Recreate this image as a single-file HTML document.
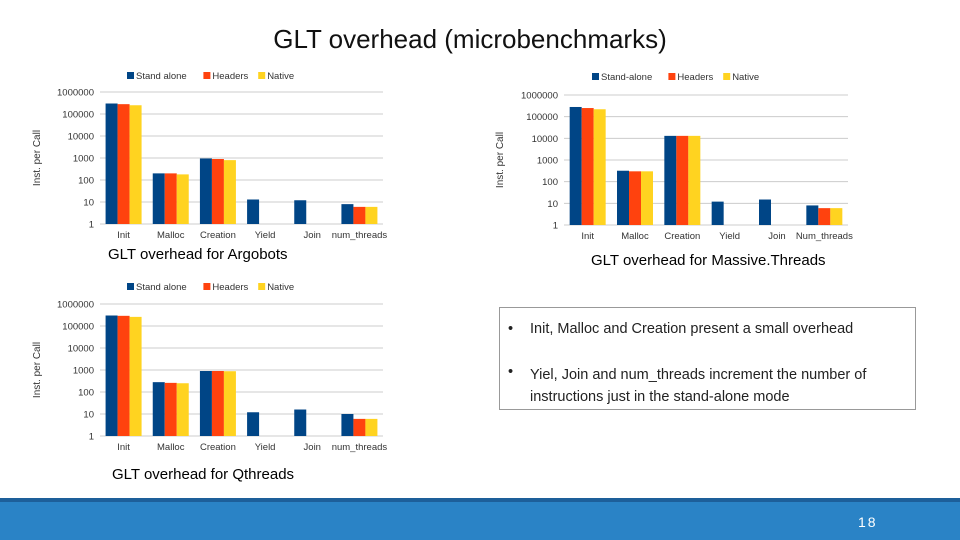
<!DOCTYPE html>
<html><head><meta charset="utf-8"><style>
body{margin:0;width:960px;height:540px;background:#fff;font-family:"Liberation Sans",sans-serif;overflow:hidden;position:relative}
.t{position:absolute;white-space:nowrap}
</style></head><body>
<div class="t" style="left:0;width:940px;text-align:center;top:24px;font-size:26px;color:#111">GLT overhead (microbenchmarks)</div>
<svg id="s" width="960" height="540" style="position:absolute;left:0;top:0"></svg>
<div class="t" style="left:108px;top:246px;font-size:15px">GLT overhead for Argobots</div>
<div class="t" style="left:591px;top:252px;font-size:15px">GLT overhead for Massive.Threads</div>
<div class="t" style="left:112px;top:466px;font-size:15px">GLT overhead for Qthreads</div>
<div style="position:absolute;left:499px;top:307px;width:415px;height:101px;border:1px solid #999;font-size:14.5px;color:#222">
<div class="t" style="left:8px;top:13px">•</div><div class="t" style="left:30px;top:13px">Init, Malloc and Creation present a small overhead</div>
<div class="t" style="left:8px;top:56px">•</div><div style="position:absolute;left:30px;top:56px;width:372px;line-height:22px">Yiel, Join and num_threads increment the number of instructions just in the stand-alone mode</div>
</div>
<div style="position:absolute;left:0;top:498px;width:960px;height:42px;background:#2a83c6;border-top:4px solid #1d5f9a;box-sizing:border-box"></div>
<div class="t" style="left:858px;top:514px;color:#fff;font-size:14px;letter-spacing:2px">18</div>
<script>
const cats1=["Init","Malloc","Creation","Yield","Join","num_threads"];
const cats2=["Init","Malloc","Creation","Yield","Join","Num_threads"];
const legend1=["Stand alone","Headers","Native"];
const legend2=["Stand-alone","Headers","Native"];
const ticks=["1","10","100","1000","10000","100000","1000000"];
const argStand=[300000,200,950,13,12,8];
const argHead=[280000,200,900,null,null,6];
const argNat=[250000,180,800,null,null,6];
const mtStand=[280000,320,13000,12,15,8];
const mtHead=[250000,300,13000,null,null,6];
const mtNat=[220000,300,13000,null,null,6];
const qtStand=[300000,280,900,12,16,10];
const qtHead=[290000,260,900,null,null,6];
const qtNat=[260000,250,880,null,null,6];
const colors=["#004586","#ff420e","#ffd320"];
const svg=document.getElementById('s');
function el(t,a){const e=document.createElementNS("http://www.w3.org/2000/svg",t);for(const k in a)e.setAttribute(k,a[k]);svg.appendChild(e);return e;}
function chart(name,x0,x1,yTop,yBot,cats,leg,series,legX,legY,ylabX){
  const y=v=>yBot-(Math.log10(v)/6)*(yBot-yTop);
  const bw=(x1-x0)/cats.length;
  ticks.forEach((t,i)=>{const yy=y(Number(t));
    const g=el('line',{x1:x0,x2:x1,y1:yy,y2:yy,stroke:'#ccc','stroke-width':1});
    
    const tx=el('text',{x:x0-6,y:yy+3.5,'text-anchor':'end','font-size':9.5,fill:'#333','font-family':'Liberation Sans'});tx.textContent=t;
    });
  cats.forEach((c,i)=>{const cx=x0+bw*(i+0.5);
    const tx=el('text',{x:cx,y:yBot+14,'text-anchor':'middle','font-size':9.5,fill:'#333','font-family':'Liberation Sans'});tx.textContent=c;
    
    series.forEach((s,j)=>{const v=s[i];if(v==null)return;const yy=y(v);
      const r=el('rect',{x:cx-18+j*12,y:yy,width:12,height:yBot-yy,fill:colors[j]});
      });});
  const yl=el('text',{x:ylabX,y:(yTop+yBot)/2,'text-anchor':'middle','font-size':10,fill:'#333','font-family':'Liberation Sans',transform:`rotate(-90 ${ylabX} ${(yTop+yBot)/2})`});yl.textContent='Inst. per Call';
  
  let lx=legX;leg.forEach((l,j)=>{const r=el('rect',{x:lx,y:legY-7,width:7,height:7,fill:colors[j]});
    
    const t=el('text',{x:lx+9,y:legY,'font-size':9.5,fill:'#333','font-family':'Liberation Sans'});t.textContent=l;
    
    lx+=9+l.length*5.4+8;});
}
chart('argobots',100,383,92,224,cats1,legend1,[argStand,argHead,argNat],127,79,40);
chart('massivethreads',564,848,95,225,cats2,legend2,[mtStand,mtHead,mtNat],592,80,503);
chart('qthreads',100,383,304,436,cats1,legend1,[qtStand,qtHead,qtNat],127,290,40);
</script>
</body></html>
